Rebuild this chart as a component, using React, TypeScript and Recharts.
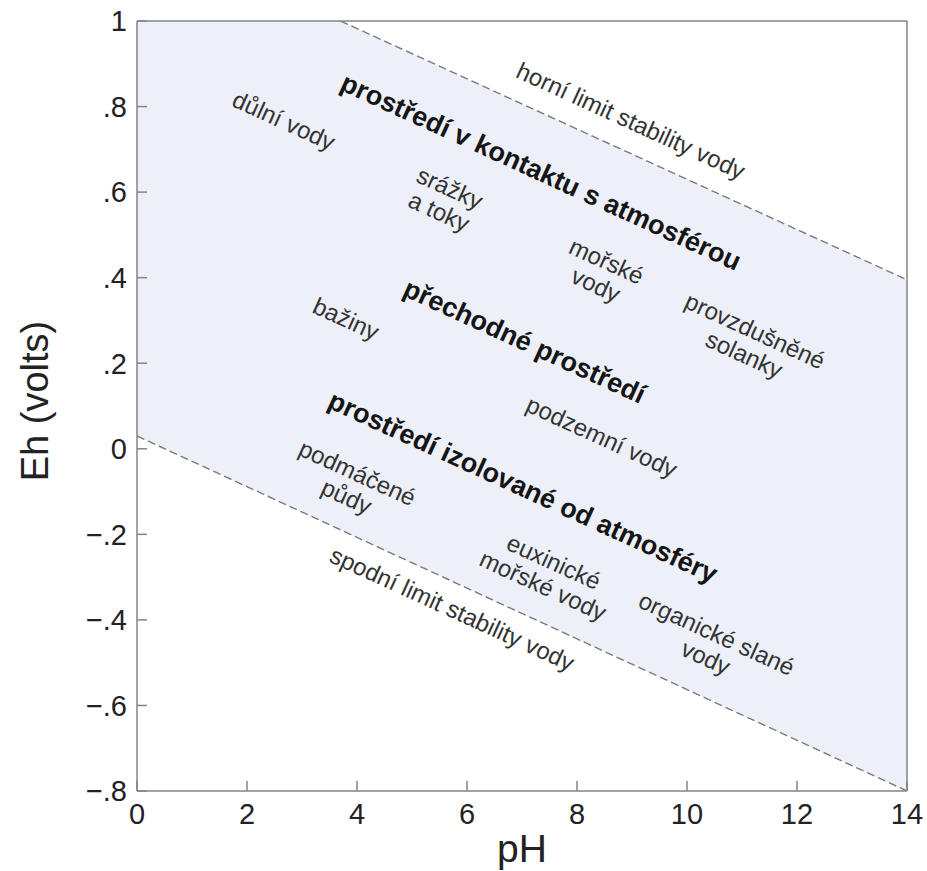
import React from 'react';
import { ComposedChart, Area, Line, Scatter, XAxis, YAxis } from 'recharts';

const phTicks = [0, 2, 4, 6, 8, 10, 12, 14];
const ehTicks = [-0.8, -0.6, -0.4, -0.2, 0, 0.2, 0.4, 0.6, 0.8, 1];
const ehTickLabels = ['−.8', '−.6', '−.4', '−.2', '0', '.2', '.4', '.6', '.8', '1'];

// water stability field between lower and upper limit (clipped at Eh = 1)
const stabilityField = [
  { ph: 0, range: [0.03, 1] },
  { ph: 3.7, range: [-0.19, 1] },
  { ph: 14, range: [-0.8, 0.395] },
];

const upperLimit = [
  { ph: 3.7, eh: 1 },
  { ph: 14, eh: 0.395 },
];

const lowerLimit = [
  { ph: 0, eh: 0.03 },
  { ph: 14, eh: -0.8 },
];

const envLabels = [
  { ph: 8.98, eh: 0.767, text: ['horní limit stability vody'], bold: false },
  { ph: 2.67, eh: 0.767, text: ['důlní vody'], bold: false },
  { ph: 7.35, eh: 0.648, text: ['prostředí v kontaktu s atmosférou'], bold: true },
  { ph: 5.59, eh: 0.582, text: ['srážky', 'a toky'], bold: false },
  { ph: 8.44, eh: 0.411, text: ['mořské', 'vody'], bold: false },
  { ph: 11.14, eh: 0.248, text: ['provzdušněné', 'solanky'], bold: false },
  { ph: 7.05, eh: 0.252, text: ['přechodné prostředí'], bold: true },
  { ph: 3.8, eh: 0.304, text: ['bažiny'], bold: false },
  { ph: 8.45, eh: 0.028, text: ['podzemní vody'], bold: false },
  { ph: 7.02, eh: -0.089, text: ['prostředí izolované od atmosféry'], bold: true },
  { ph: 3.91, eh: -0.084, text: ['podmáčené', 'půdy'], bold: false },
  { ph: 7.48, eh: -0.292, text: ['euxinické', 'mořské vody'], bold: false },
  { ph: 5.73, eh: -0.374, text: ['spodní limit stability vody'], bold: false },
  { ph: 10.44, eh: -0.46, text: ['organické slané', 'vody'], bold: false },
];

const FONT = '"Liberation Sans", Arial, Helvetica, sans-serif';
const ANGLE = 24.6;

const LabelShape = (props: any) => {
  const { cx, cy, payload } = props;
  if (cx == null || cy == null || !payload) return null;
  const lines: string[] = payload.text;
  const fs = payload.bold ? 27 : 24;
  const lh = payload.bold ? 30 : 26;
  const n = lines.length;
  return (
    <text
      transform={`rotate(${ANGLE}, ${cx}, ${cy})`}
      textAnchor="middle"
      fontFamily={FONT}
      fontSize={fs}
      fontWeight={payload.bold ? 'bold' : 'normal'}
      fill={payload.bold ? '#151515' : '#333333'}
    >
      {lines.map((l, i) => (
        <tspan key={i} x={cx} y={cy + (i - (n - 1) / 2) * lh} dy="0.35em">
          {l}
        </tspan>
      ))}
    </text>
  );
};

const fmtEh = (v: number) => {
  const i = ehTicks.findIndex((t) => Math.abs(t - v) < 1e-9);
  return i >= 0 ? ehTickLabels[i] : String(v);
};

const XTitle = (props: any) => {
  const vb = props.viewBox;
  if (!vb) return null;
  return (
    <text x={vb.x + vb.width / 2} y={vb.y + 71} textAnchor="middle" fontFamily={FONT} fontSize={39} fill="#222">
      pH
    </text>
  );
};

const YTitle = (props: any) => {
  const vb = props.viewBox;
  if (!vb) return null;
  const x = vb.x + 35;
  const y = vb.y + vb.height / 2 - 5;
  return (
    <text
      x={x}
      y={y}
      transform={`rotate(-90, ${x}, ${y})`}
      textAnchor="middle"
      dominantBaseline="central"
      fontFamily={FONT}
      fontSize={38}
      fill="#222"
    >
      Eh (volts)
    </text>
  );
};

const tickStyle = { fontFamily: FONT, fontSize: 29, fill: '#222' };
const axisColor = '#858585';

export default function App() {
  return (
    <div style={{ position: 'absolute', left: 0, top: 0, background: '#fff' }}>
      <ComposedChart width={927} height={871} margin={{ top: 20, right: 19, left: 0, bottom: 0 }}>
        <XAxis
          dataKey="ph"
          type="number"
          domain={[0, 14]}
          ticks={phTicks}
          allowDataOverflow
          tickSize={-10}
          tickMargin={22}
          height={80}
          tick={tickStyle}
          stroke={axisColor}
          strokeWidth={1.5}
          label={{ content: XTitle }}
        />
        <XAxis
          xAxisId="top"
          orientation="top"
          dataKey="ph"
          type="number"
          domain={[0, 14]}
          ticks={phTicks}
          allowDataOverflow
          tickSize={-10}
          height={1}
          tick={false}
          stroke={axisColor}
          strokeWidth={1.5}
        />
        <YAxis
          type="number"
          domain={[-0.8, 1]}
          ticks={ehTicks}
          allowDataOverflow
          tickSize={-10}
          tickMargin={20}
          width={137}
          tick={tickStyle}
          tickFormatter={fmtEh}
          stroke={axisColor}
          strokeWidth={1.5}
          label={{ content: YTitle }}
        />
        <YAxis
          yAxisId="right"
          orientation="right"
          type="number"
          domain={[-0.8, 1]}
          ticks={ehTicks}
          allowDataOverflow
          tickSize={-10}
          width={1}
          tick={false}
          stroke={axisColor}
          strokeWidth={1.5}
        />
        <Area
          data={stabilityField}
          dataKey="range"
          type="linear"
          fill="#edf0f8"
          fillOpacity={1}
          stroke="none"
          isAnimationActive={false}
        />
        <Line
          data={upperLimit}
          dataKey="eh"
          type="linear"
          stroke="#7a7a7a"
          strokeWidth={1.4}
          strokeDasharray="8 4"
          dot={false}
          activeDot={false}
          isAnimationActive={false}
        />
        <Line
          data={lowerLimit}
          dataKey="eh"
          type="linear"
          stroke="#7a7a7a"
          strokeWidth={1.4}
          strokeDasharray="8 4"
          dot={false}
          activeDot={false}
          isAnimationActive={false}
        />
        <Scatter data={envLabels} dataKey="eh" shape={LabelShape} isAnimationActive={false} />
      </ComposedChart>
    </div>
  );
}
